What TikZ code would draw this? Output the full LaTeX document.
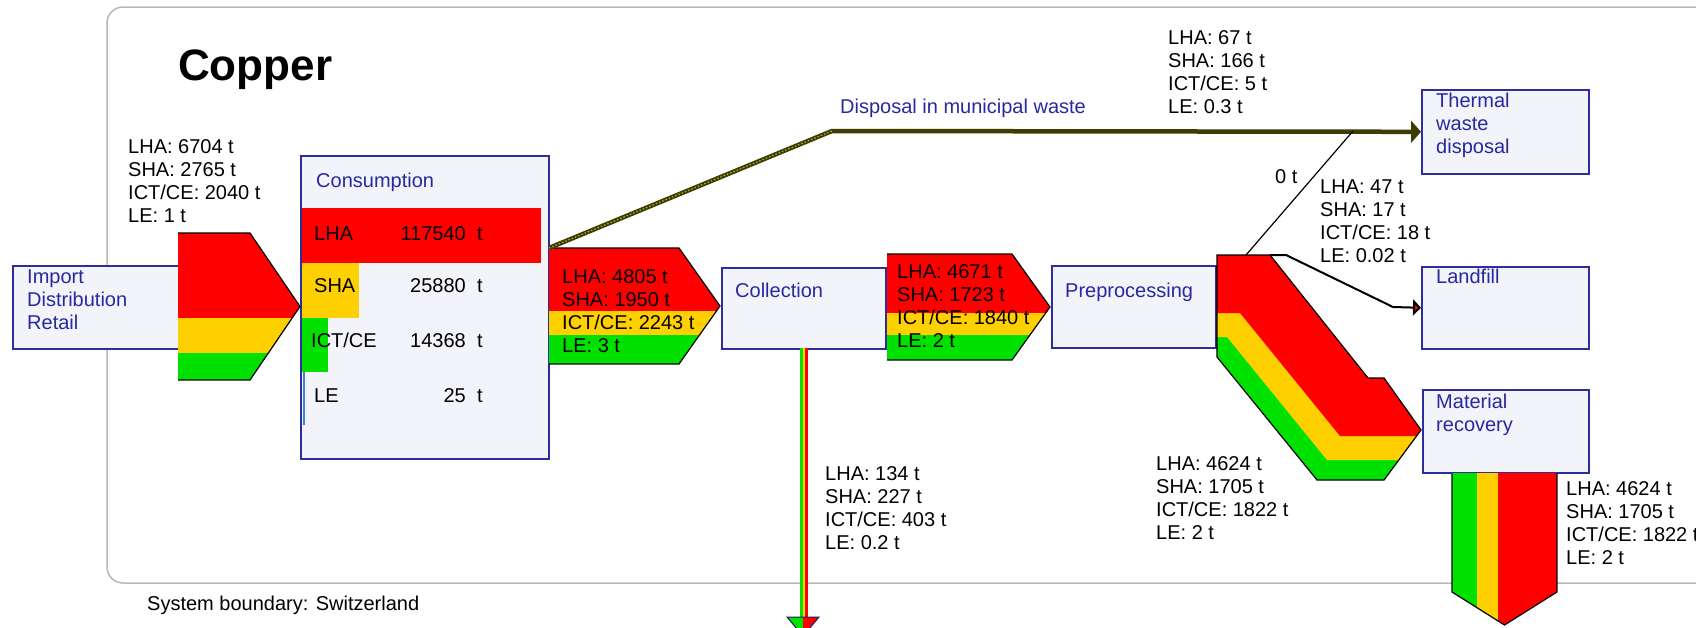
\documentclass[tikz,border=0pt]{standalone}
\usepackage{fontspec}
\setmainfont{Liberation Sans}
\usetikzlibrary{arrows.meta}
\definecolor{fred}{RGB}{255,0,0}
\definecolor{fyel}{RGB}{255,208,0}
\definecolor{fgrn}{RGB}{0,225,0}
\definecolor{navy}{RGB}{45,45,155}
\definecolor{boxfill}{RGB}{243,243,250}
\definecolor{boxtext}{RGB}{40,40,160}
\definecolor{framecol}{RGB}{185,185,185}
\definecolor{dispcol}{RGB}{60,60,5}
\definecolor{dispdot}{RGB}{185,175,40}
\definecolor{lebar}{RGB}{60,130,230}
\newcommand{\stk}[1]{\begin{tabular}[t]{@{}l@{}}#1\end{tabular}}
\newcommand{\hflow}[7]{% L, R, T, top, bottom, y1, y2
  \begin{scope}
    \clip (#1,#4) -- (#2,#4) -- (#3,{(#4+#5)/2}) -- (#2,#5) -- (#1,#5) -- cycle;
    \fill[fred] (#1,#4) rectangle (#3,#6);
    \fill[fyel] (#1,#6) rectangle (#3,#7);
    \fill[fgrn] (#1,#7) rectangle (#3,#5);
  \end{scope}
  \draw[flowline] (#1,#4) -- (#2,#4) -- (#3,{(#4+#5)/2}) -- (#2,#5) -- (#1,#5);
}
\begin{document}
\begin{tikzpicture}[x=1pt,y=-1pt,
  box/.style={draw=navy, line width=1.6pt, fill=boxfill, inner sep=0pt, anchor=north west},
  btxt/.style={text=boxtext, anchor=base west, inner sep=0pt, font=\fontsize{20}{23.3}\selectfont},
  lbl/.style={text=black, anchor=base west, inner sep=0pt, font=\fontsize{20}{23.3}\selectfont},
  flowline/.style={line width=1.2pt, line join=miter}]
\useasboundingbox (0,0) rectangle (1696,627);
\fill[white] (0,0) rectangle (1696,627);
\clip (0,0) rectangle (1696,627);

% system boundary
\draw[framecol, line width=1.5pt, rounded corners=16pt] (107,7) rectangle (1740,583);
\node[anchor=base west, inner sep=0pt, font=\fontsize{44}{50}\selectfont\bfseries] (title) at (178,80) {Copper};
\node[lbl] (sysb) at (147,610) {System boundary: Switzerland};

% boxes
\node[box, minimum width=166pt, minimum height=83pt] (imp) at (12,265) {};
\node[btxt] (imptxt) at (27,283) {\stk{Import\\Distribution\\Retail}};
\node[box, minimum width=248pt, minimum height=303pt] (cons) at (300,155) {};
\node[btxt] (constxt) at (316,187) {Consumption};
\node[box, minimum width=164pt, minimum height=81pt] (coll) at (721,267) {};
\node[btxt] (colltxt) at (735,297) {Collection};
\node[box, minimum width=164pt, minimum height=82pt] (pre) at (1051,265) {};
\node[btxt] (pretxt) at (1065,297) {Preprocessing};
\node[box, minimum width=167pt, minimum height=84pt] (therm) at (1421,89) {};
\node[btxt] (thermtxt) at (1436,107) {\stk{Thermal\\waste\\disposal}};
\node[box, minimum width=167pt, minimum height=82pt] (land) at (1421,266) {};
\node[btxt] (landtxt) at (1436,283) {Landfill};
\node[box, minimum width=166pt, minimum height=83pt] (mat) at (1422,389) {};
\node[btxt] (mattxt) at (1436,408) {\stk{Material\\recovery}};

% consumption bars
\fill[fred] (302,208) rectangle (541,263);
\fill[fyel] (302,263) rectangle (359,318);
\fill[fgrn] (302,318) rectangle (328,372);
\fill[lebar] (302.5,372) rectangle (305,425);
\node[lbl] (cl1) at (314,240) {LHA};
\node[lbl] (cl2) at (314,292) {SHA};
\node[lbl] (cl3) at (311,347) {ICT/CE};
\node[lbl] (cl4) at (314,402) {LE};
\node[lbl, anchor=base east] (cn1) at (466,240) {117540};
\node[lbl, anchor=base east] (cn2) at (466,292) {25880};
\node[lbl, anchor=base east] (cn3) at (466,347) {14368};
\node[lbl, anchor=base east] (cn4) at (466,402) {25};
\node[lbl] (ct1) at (477,240) {t};
\node[lbl] (ct2) at (477,292) {t};
\node[lbl] (ct3) at (477,347) {t};
\node[lbl] (ct4) at (477,402) {t};

% flows
\hflow{178}{250}{300}{233}{380}{318}{353}
\hflow{549}{679}{720}{248}{364}{311}{335}
\hflow{887}{1012}{1050}{254}{360}{313}{335}
\coordinate (cctl) at (549,248);
\coordinate (dispbend) at (832,131);
\coordinate (join) at (1353,131);
\coordinate (ribtop) at (1246,255);
\coordinate (ribcorner) at (1270,255);

% disposal in municipal waste
\draw[dispcol, line width=4.5pt, line join=round, -{Triangle[length=10pt,width=22pt]}] (cctl) -- (dispbend) -- (therm.west);
\draw[dispdot, line width=1.2pt, dash pattern=on 1.5pt off 2pt] (cctl) -- (dispbend);
\node[btxt] (disptxt) at (840,113) {Disposal in municipal waste};

% preprocessing output ribbon
\begin{scope}
  \clip (1217,255) -- (1270,255) -- (1368,378) -- (1384,378) -- (1421,430) -- (1384,480) -- (1317,480) -- (1217,357) -- cycle;
  \fill[fgrn] (1200,240) rectangle (1430,490);
  \fill[fyel] (1200,240) -- (1430,240) -- (1430,460) -- (1327,460) -- (1227,337) -- (1200,337) -- cycle;
  \fill[fred] (1200,240) -- (1430,240) -- (1430,436) -- (1340,436) -- (1240,313) -- (1200,313) -- cycle;
\end{scope}
\draw[flowline] (1217,255) -- (1270,255) -- (1368,378) -- (1384,378) -- (1421,430) -- (1384,480) -- (1317,480) -- (1217,357) -- cycle;

% thin line to thermal, line to landfill
\draw[black, line width=1.2pt] (ribtop) -- (join);
\draw[black, line width=2pt, -{Triangle[length=8pt,width=16pt,fill=fred]}] (ribcorner) -- (1286,255) -- (1393,307) -- (land.west);

% material recovery output
\begin{scope}
  \clip (1452,473) -- (1557,473) -- (1557,592) -- (1504.5,625) -- (1452,592) -- cycle;
  \fill[fgrn] (1452,470) rectangle (1477,630);
  \fill[fyel] (1477,470) rectangle (1498,630);
  \fill[fred] (1498,470) rectangle (1557,630);
\end{scope}
\draw[flowline] (mat.south -| 1452,0) -- (1452,592) -- (1504.5,625) -- (1557,592) -- (1557,473);

% collection downward flow
\fill[fgrn] (800,348) rectangle (802.7,617);
\fill[fyel] (802.7,348) rectangle (805.3,617);
\fill[fred] (805.3,348) rectangle (808,617);
\begin{scope}
  \clip (787,617) -- (819,617) -- (803,636) -- cycle;
  \fill[fgrn] (780,610) rectangle (803,640);
  \fill[fred] (803,610) rectangle (825,640);
\end{scope}
\draw[navy!60!black, line width=1pt] (787,617) -- (819,617) -- (803,636) -- cycle;
\coordinate (collout) at (coll.south);

% flow labels
\node[lbl] (l1) at (128,153) {\stk{LHA: 6704 t\\SHA: 2765 t\\ICT/CE: 2040 t\\LE: 1 t}};
\node[lbl] (l2) at (562,283) {\stk{LHA: 4805 t\\SHA: 1950 t\\ICT/CE: 2243 t\\LE: 3 t}};
\node[lbl] (l3) at (897,278) {\stk{LHA: 4671 t\\SHA: 1723 t\\ICT/CE: 1840 t\\LE: 2 t}};
\node[lbl] (l4) at (1168,44) {\stk{LHA: 67 t\\SHA: 166 t\\ICT/CE: 5 t\\LE: 0.3 t}};
\node[lbl] (l5) at (1275,183) {0 t};
\node[lbl] (l6) at (1320,193) {\stk{LHA: 47 t\\SHA: 17 t\\ICT/CE: 18 t\\LE: 0.02 t}};
\node[lbl] (l7) at (1156,470) {\stk{LHA: 4624 t\\SHA: 1705 t\\ICT/CE: 1822 t\\LE: 2 t}};
\node[lbl] (l8) at (1566,495) {\stk{LHA: 4624 t\\SHA: 1705 t\\ICT/CE: 1822 t\\LE: 2 t}};
\node[lbl] (l9) at (825,480) {\stk{LHA: 134 t\\SHA: 227 t\\ICT/CE: 403 t\\LE: 0.2 t}};
\end{tikzpicture}
\end{document}
